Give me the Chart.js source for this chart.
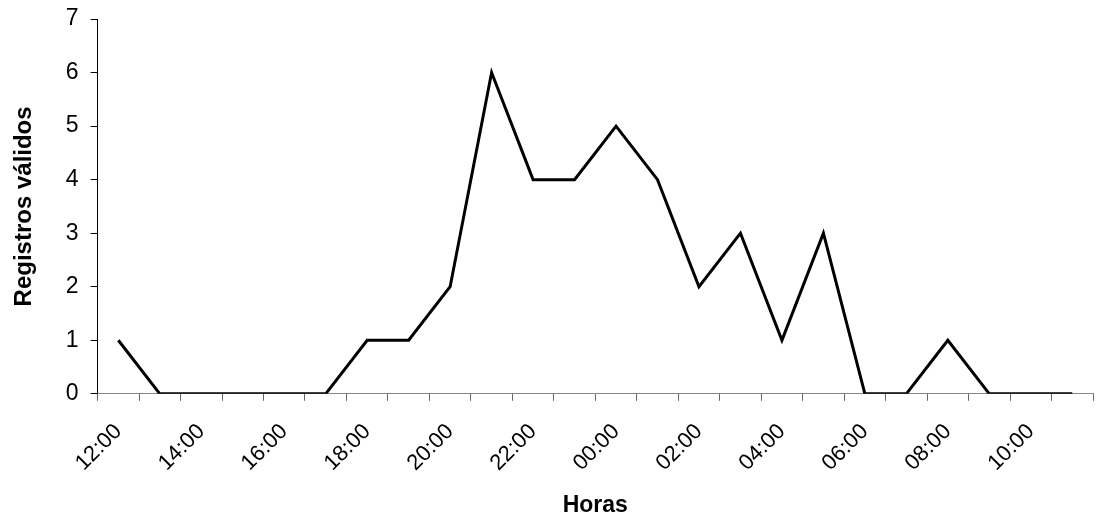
<!DOCTYPE html>
<html>
<head>
<meta charset="utf-8">
<script src="https://cdn.jsdelivr.net/npm/chart.js@4"></script>
<style>
  html, body { margin: 0; padding: 0; background: #fff; }
  #wrap { width: 1096px; height: 521px; }
</style>
</head>
<body>
<div id="wrap"><canvas id="chart"></canvas></div>
<script>
const horas = ["12:00", "13:00", "14:00", "15:00", "16:00", "17:00", "18:00", "19:00",
  "20:00", "21:00", "22:00", "23:00", "00:00", "01:00", "02:00", "03:00",
  "04:00", "05:00", "06:00", "07:00", "08:00", "09:00", "10:00", "11:00"];
const registros = [1, 0, 0, 0, 0, 0, 1, 1, 2, 6, 4, 4, 5, 4, 2, 3, 1, 3, 0, 0, 1, 0, 0, 0];

const fontFamily = "'Liberation Sans', Arial, sans-serif";

const ctx = document.getElementById("chart").getContext("2d");
new Chart(ctx, {
  type: "line",
  data: {
    labels: horas,
    datasets: [{
      label: "Registros válidos",
      data: registros,
      borderColor: "#000",
      borderWidth: 3,
      pointRadius: 0,
      tension: 0,
      fill: false
    }]
  },
  options: {
    responsive: true,
    maintainAspectRatio: false,
    animation: false,
    layout: { padding: { top: 0, right: 3, left: 6, bottom: 2 } },
    plugins: {
      legend: { display: false },
      tooltip: { enabled: false }
    },
    scales: {
      x: {
        offset: true,
        afterFit: (scale) => {
          // rotated labels shouldn't eat the right margin
          scale.paddingRight = 0;
          scale.height -= 7;
        },
        grid: {
          offset: true,
          drawOnChartArea: false,
          drawTicks: true,
          tickLength: 7,
          color: "#666"
        },
        border: { color: "#888", width: 1 },
        ticks: {
          autoSkip: false,
          minRotation: 45,
          maxRotation: 45,
          padding: 18,
          color: "#000",
          font: { family: fontFamily, size: 22 },
          callback: function (val, i) {
            return i % 2 === 0 ? this.getLabelForValue(val) : "";
          }
        },
        title: {
          display: true,
          text: "Horas",
          color: "#000",
          font: { family: fontFamily, size: 23, weight: "bold" },
          padding: { top: 4, bottom: 0 }
        }
      },
      y: {
        min: 0,
        max: 7,
        afterFit: (scale) => {
          scale.paddingTop = 19;
        },
        grid: {
          drawOnChartArea: false,
          drawTicks: true,
          tickLength: 7,
          color: "#000"
        },
        border: { color: "#000", width: 1 },
        ticks: {
          stepSize: 1,
          color: "#000",
          padding: 12,
          font: { family: fontFamily, size: 23 }
        },
        title: {
          display: true,
          text: "Registros válidos",
          color: "#000",
          font: { family: fontFamily, size: 24, weight: "bold" },
          padding: { top: 4, bottom: 15 }
        }
      }
    }
  }
});
</script>
</body>
</html>
